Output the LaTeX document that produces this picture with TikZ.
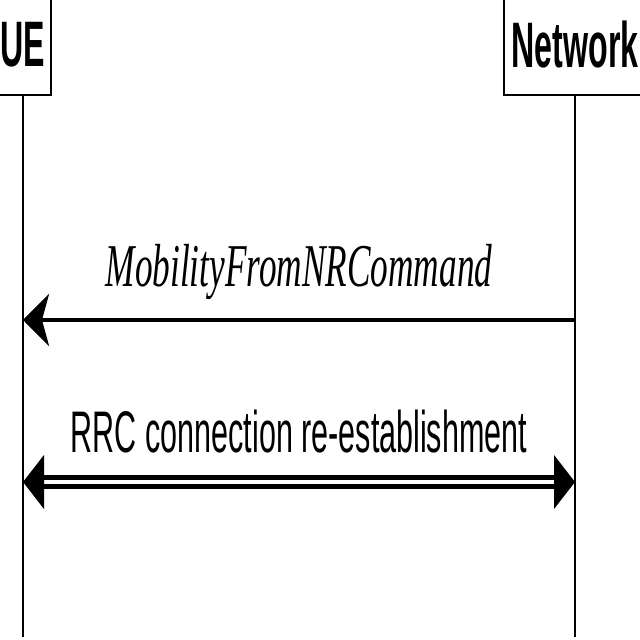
\documentclass[tikz,border=0pt]{standalone}
\usepackage{fontspec}
\usetikzlibrary{arrows.meta,positioning,calc}
\newfontfamily\entfont[FakeStretch=0.5]{Liberation Sans}
\newfontfamily\msgfont[FakeStretch=0.58]{Liberation Serif}
\newfontfamily\procfont[FakeStretch=0.52]{Liberation Sans}
\tikzset{entity/.style={draw,line width=0.8pt,minimum height=10mm,inner sep=0pt,
  font=\entfont\bfseries\fontsize{18.3}{20}\selectfont},
  lifeline/.style={line width=0.6pt},
  msg/.style={-{Stealth[length=2.6mm,width=5.2mm,inset=0.7mm]},line width=1.4pt},
  proc/.style={{Triangle[length=2.1mm,width=5.3mm]}-{Triangle[length=2.1mm,width=5.3mm]},
  double,double distance=0.9pt,line width=1.6pt},
  msglbl/.style={font=\msgfont\itshape\fontsize{17.3}{19}\selectfont,inner sep=0pt},
  proclbl/.style={font=\procfont\fontsize{16.7}{18}\selectfont,inner sep=0pt}}
\begin{document}
\begin{tikzpicture}[x=0.1mm,y=0.1mm]
\useasboundingbox (0,0) rectangle (640,640);
\node[entity,minimum width=5.6mm] (ue) at (23,595) {UE};
\node[entity,minimum width=14.2mm] (nw) at (575,595) {Network};
\coordinate (ue-end) at (23,3);
\coordinate (nw-end) at (575,3);
\draw[lifeline] (ue) -- (ue-end);
\draw[lifeline] (nw) -- (nw-end);
% messages
\coordinate (ue-m1) at (23,320);\coordinate (nw-m1) at (575,320);
\coordinate (ue-m2) at (23,158);\coordinate (nw-m2) at (575,158);
\draw[msg] (nw-m1) -- (ue-m1) node[msglbl,midway,above=5pt] {MobilityFromNRCommand};
\draw[proc] (ue-m2) -- (nw-m2) node[proclbl,midway,above=7.5pt] {RRC connection re-establishment};
\end{tikzpicture}
\end{document}
